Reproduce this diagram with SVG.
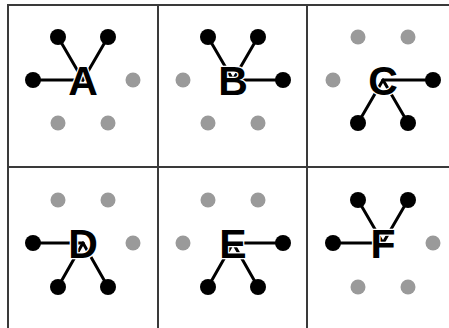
<svg xmlns="http://www.w3.org/2000/svg" width="449" height="328" viewBox="0 0 449 328">
<style>
.grid{fill:none;stroke:#3a3a3a;stroke-width:2}
.edge{stroke:#000;stroke-width:3;stroke-linecap:round}
.on{fill:#000}
.off{fill:#9a9a9a}
.lbl{font-family:"Liberation Sans",Arial,sans-serif;font-weight:bold;font-size:41px;text-anchor:middle;fill:#000;stroke:#fff;stroke-width:2.5;paint-order:stroke}
</style>
<rect width="449" height="328" fill="#fff"/>
<g id="grid" class="grid">
<rect x="8" y="5" width="450" height="330"/>
<line x1="158" y1="5" x2="158" y2="335"/>
<line x1="307" y1="5" x2="307" y2="335"/>
<line x1="8" y1="167" x2="458" y2="167"/>
</g>
<g id="connectors">
<g class="edge">
<line x1="58" y1="37" x2="83" y2="80"/><line x1="108" y1="37" x2="83" y2="80"/><line x1="33" y1="80" x2="83" y2="80"/>
<line x1="208" y1="37" x2="233" y2="80"/><line x1="258" y1="37" x2="233" y2="80"/><line x1="283" y1="80" x2="233" y2="80"/>
<line x1="433" y1="80" x2="383" y2="80"/><line x1="358" y1="123" x2="383" y2="80"/><line x1="408" y1="123" x2="383" y2="80"/>
<line x1="33" y1="243" x2="83" y2="243"/><line x1="58" y1="287" x2="83" y2="243"/><line x1="108" y1="287" x2="83" y2="243"/>
<line x1="283" y1="243" x2="233" y2="243"/><line x1="208" y1="287" x2="233" y2="243"/><line x1="258" y1="287" x2="233" y2="243"/>
<line x1="358" y1="200" x2="383" y2="243"/><line x1="408" y1="200" x2="383" y2="243"/><line x1="333" y1="243" x2="383" y2="243"/>
</g>
</g>
<g id="A">
<circle class="on" cx="58" cy="37" r="8"/><circle class="on" cx="108" cy="37" r="8"/><circle class="on" cx="33" cy="80" r="8"/>
<circle class="off" cx="133" cy="80" r="7.5"/><circle class="off" cx="58" cy="123" r="7.5"/><circle class="off" cx="108" cy="123" r="7.5"/>
<text class="lbl" x="83" y="95">A</text>
</g>
<g id="B">
<circle class="on" cx="208" cy="37" r="8"/><circle class="on" cx="258" cy="37" r="8"/><circle class="on" cx="283" cy="80" r="8"/>
<circle class="off" cx="183" cy="80" r="7.5"/><circle class="off" cx="208" cy="123" r="7.5"/><circle class="off" cx="258" cy="123" r="7.5"/>
<text class="lbl" x="233" y="95">B</text>
</g>
<g id="C">
<circle class="on" cx="433" cy="80" r="8"/><circle class="on" cx="358" cy="123" r="8"/><circle class="on" cx="408" cy="123" r="8"/>
<circle class="off" cx="358" cy="37" r="7.5"/><circle class="off" cx="408" cy="37" r="7.5"/><circle class="off" cx="333" cy="80" r="7.5"/>
<text class="lbl" x="383" y="95">C</text>
</g>
<g id="D">
<circle class="on" cx="33" cy="243" r="8"/><circle class="on" cx="58" cy="287" r="8"/><circle class="on" cx="108" cy="287" r="8"/>
<circle class="off" cx="58" cy="200" r="7.5"/><circle class="off" cx="108" cy="200" r="7.5"/><circle class="off" cx="133" cy="243" r="7.5"/>
<text class="lbl" x="83" y="258">D</text>
</g>
<g id="E">
<circle class="on" cx="283" cy="243" r="8"/><circle class="on" cx="208" cy="287" r="8"/><circle class="on" cx="258" cy="287" r="8"/>
<circle class="off" cx="208" cy="200" r="7.5"/><circle class="off" cx="258" cy="200" r="7.5"/><circle class="off" cx="183" cy="243" r="7.5"/>
<text class="lbl" x="233" y="258">E</text>
</g>
<g id="F">
<circle class="on" cx="358" cy="200" r="8"/><circle class="on" cx="408" cy="200" r="8"/><circle class="on" cx="333" cy="243" r="8"/>
<circle class="off" cx="433" cy="243" r="7.5"/><circle class="off" cx="358" cy="287" r="7.5"/><circle class="off" cx="408" cy="287" r="7.5"/>
<text class="lbl" x="383" y="258">F</text>
</g>
</svg>
